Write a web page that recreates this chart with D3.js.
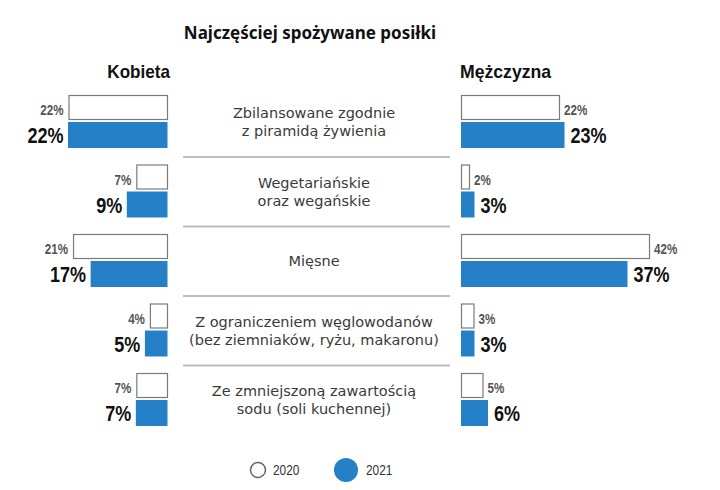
<!DOCTYPE html>
<html><head><meta charset="utf-8">
<script src="https://cdn.jsdelivr.net/npm/d3@7"></script>
<style>
body{margin:0;background:#fff;}
.cond{font-family:"Liberation Sans",Arial,sans-serif;}
.cat{font-family:"DejaVu Sans",sans-serif;font-weight:400;}
</style></head>
<body>
<script>
const categories = [
  ["Zbilansowane zgodnie","z piramidą żywienia"],
  ["Wegetariańskie","oraz wegańskie"],
  ["Mięsne"],
  ["Z ograniczeniem węglowodanów","(bez ziemniaków, ryżu, makaronu)"],
  ["Ze zmniejszoną zawartością","sodu (soli kuchennej)"]
];
const women2020 = [22, 7, 21, 4, 7];
const women2021 = [22, 9, 17, 5, 7];
const men2020 = [22, 2, 42, 3, 5];
const men2021 = [23, 3, 37, 3, 6];
const years = ["2020", "2021"];

const W = 720, H = 490;
const blue = "#2680c8";
const svg = d3.select("body").append("svg").attr("width", W).attr("height", H);

const idx = d3.range(categories.length);
const y = d3.scaleBand().domain(idx).range([95, 95 + 69.5 * categories.length]).paddingInner(0).paddingOuter(0);
const xL = d3.scaleLinear().domain([0, 22]).range([167.5, 68]);
const xR = d3.scaleLinear().domain([0, 22]).range([461, 560]);
const bh1 = 25, bh2 = 26, off2 = 27;

// condensed text helper: translate + horizontal squeeze
function ctext(sel, sx) {
  return sel.attr("transform", function() {
    const x = +this.getAttribute("data-x"), yy = +this.getAttribute("data-y");
    return `translate(${x},${yy}) scale(${sx},1)`;
  });
}

svg.append("text").attr("x", 310).attr("y", 39).attr("text-anchor", "middle")
  .style("font-family", "'Noto Sans',sans-serif").style("font-weight", 700).style("font-size", "17px")
  .attr("fill", "#111").text("Najczęściej spożywane posiłki");

svg.append("text").attr("class", "cond").attr("transform", "translate(170,78) scale(0.95,1)").attr("text-anchor", "end")
  .style("font-weight", 700).style("font-size", "18px").attr("fill", "#111").text("Kobieta");
svg.append("text").attr("class", "cond").attr("transform", "translate(460,78) scale(0.98,1)").attr("text-anchor", "start")
  .style("font-weight", 700).style("font-size", "18px").attr("fill", "#111").text("Mężczyzna");

// separators
svg.selectAll("line.sep").data(idx.slice(0, -1)).join("line").attr("class", "sep")
  .attr("x1", 183).attr("x2", 450)
  .attr("y1", d => y(d) + 62).attr("y2", d => y(d) + 62)
  .attr("stroke", "#bdbdbd").attr("stroke-width", 2);

// category labels (one text element per line)
const catLines = [];
idx.forEach(d => {
  const n = categories[d].length;
  categories[d].forEach((l, i) => catLines.push({d, l, i, n}));
});
svg.selectAll("text.cat").data(catLines).join("text").attr("class", "cat")
  .attr("text-anchor", "middle").style("font-size", "14.5px").attr("fill", "#3a3a3a")
  .attr("x", 314)
  .attr("y", o => y(o.d) + 27 + 5 + (o.i - (o.n - 1) / 2) * 18)
  .text(o => o.l);

function side(v20, v21, x, isLeft) {
  const g = svg.append("g");
  g.selectAll("rect.b20").data(idx).join("rect")
    .attr("x", d => isLeft ? x(v20[d]) : x(0)).attr("y", d => y(d) + 0.5)
    .attr("width", d => Math.abs(x(v20[d]) - x(0)) - 1).attr("height", bh1 - 1)
    .attr("fill", "#fff").attr("stroke", "#7a7a7a").attr("stroke-width", 1.2)
    .attr("transform", isLeft ? "translate(1,0)" : "translate(0.5,0)");
  g.selectAll("rect.b21").data(idx).join("rect")
    .attr("x", d => isLeft ? x(v21[d]) : x(0)).attr("y", d => y(d) + off2)
    .attr("width", d => Math.abs(x(v21[d]) - x(0))).attr("height", bh2)
    .attr("fill", blue);
  g.selectAll("text.l20").data(idx).join("text").attr("class", "cond")
    .attr("data-x", d => isLeft ? x(v20[d]) - 4.5 : x(v20[d]) + 4)
    .attr("data-y", d => y(d) + 20)
    .attr("text-anchor", isLeft ? "end" : "start")
    .style("font-weight", 700).style("font-size", "14.5px").attr("fill", "#555")
    .text(d => v20[d] + "%")
    .call(ctext, 0.8);
  g.selectAll("text.l21").data(idx).join("text").attr("class", "cond")
    .attr("data-x", d => isLeft ? x(v21[d]) - 4.5 : x(v21[d]) + 6)
    .attr("data-y", d => y(d) + 48)
    .attr("text-anchor", isLeft ? "end" : "start")
    .style("font-weight", 700).style("font-size", "22px").attr("fill", "#111")
    .text(d => v21[d] + "%")
    .call(ctext, 0.82);
}
side(women2020, women2021, xL, true);
side(men2020, men2021, xR, false);

// legend
const lg = svg.append("g");
const lx = [258, 346];
lg.selectAll("circle").data(years).join("circle")
  .attr("cx", (d, i) => lx[i]).attr("cy", 470)
  .attr("r", (d, i) => i === 0 ? 7.5 : 12)
  .attr("fill", (d, i) => i === 0 ? "#fff" : blue)
  .attr("stroke", (d, i) => i === 0 ? "#666" : "none").attr("stroke-width", 1.5);
lg.selectAll("text").data(years).join("text").attr("class", "cond")
  .attr("data-x", (d, i) => [273, 366][i]).attr("data-y", 475)
  .style("font-size", "14px").attr("fill", "#333").text(d => d)
  .call(ctext, 0.85);
</script>
</body></html>
